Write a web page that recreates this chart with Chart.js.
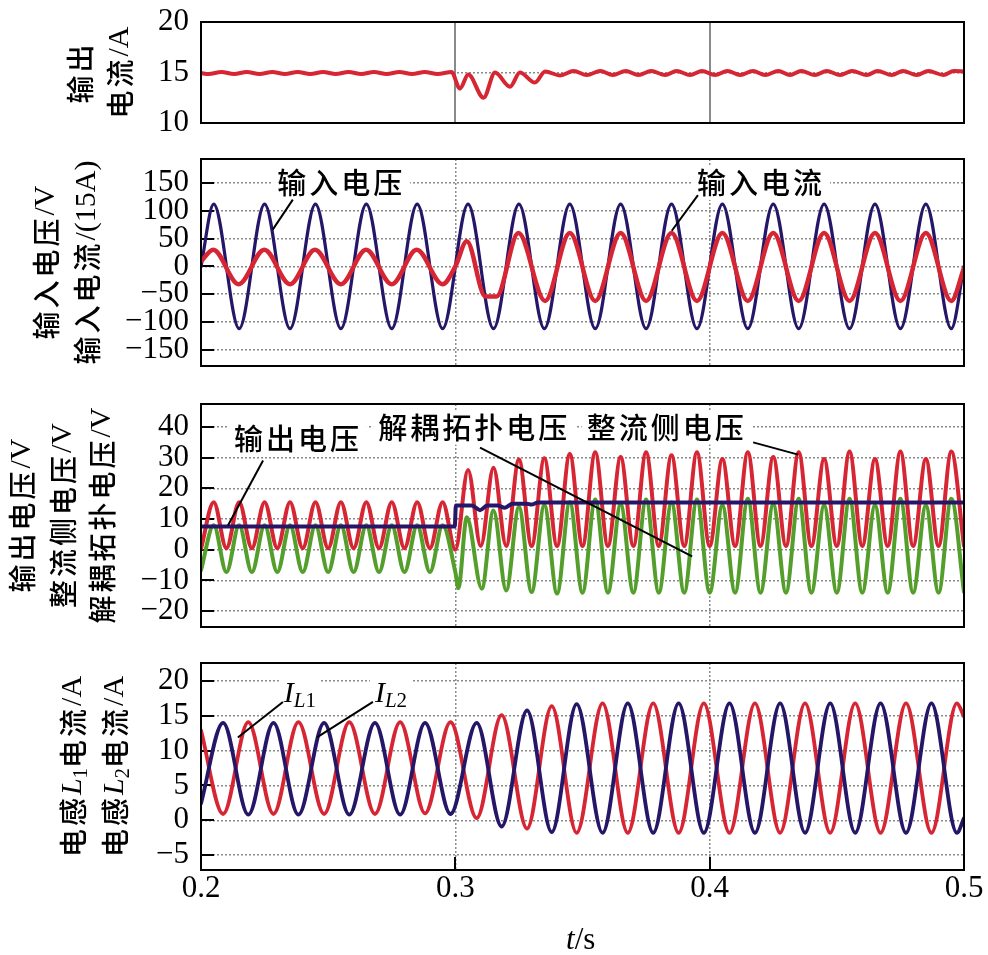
<!DOCTYPE html>
<html>
<head>
<meta charset="utf-8">
<script src="https://cdn.jsdelivr.net/npm/chart.js@4.4.1/dist/chart.umd.min.js"></script>
<style>
  body { margin: 0; background: #fff; overflow: hidden; }
  #wrap { position: relative; width: 988px; height: 955px; }
  canvas { position: absolute; left: 0; }
  #tlabel { position: absolute; left: 566px; top: 921px; font: 31px 'Liberation Serif', serif; color: #000; }
</style>
</head>
<body>
<div id="wrap">
  <canvas id="c1" width="988" height="150" style="top:0px"></canvas>
  <canvas id="c2" width="988" height="240" style="top:150px"></canvas>
  <canvas id="c3" width="988" height="250" style="top:390px"></canvas>
  <canvas id="c4" width="988" height="315" style="top:640px"></canvas>
  <div id="tlabel"><i>t</i>/s</div>
</div>
<script>
// x axis ticks (time, s)
const xTicks = [0.2, 0.3, 0.4, 0.5];

// panel 1: output current (A)
const iOutTicks = [10, 15, 20];
const iOutT = [0.2, 0.203, 0.208, 0.213, 0.218, 0.223, 0.228, 0.233, 0.238, 0.243, 0.248, 0.253, 0.258, 0.263, 0.268, 0.273, 0.278, 0.283, 0.288, 0.293, 0.2985,
  0.3018, 0.3051, 0.3111, 0.3156, 0.3215, 0.3254, 0.3313, 0.3353, 0.3412,
  0.3465, 0.3517, 0.357, 0.3619, 0.367, 0.372, 0.377, 0.3825, 0.387, 0.3923, 0.397, 0.4021, 0.407, 0.412, 0.417, 0.4218,
  0.427, 0.4316, 0.436, 0.4414, 0.446, 0.4513, 0.456, 0.4618, 0.466, 0.4716, 0.476, 0.4814, 0.486, 0.4919, 0.496, 0.5];
const iOutV = [14.95, 14.85, 15.05, 14.85, 15.05, 14.85, 15.05, 14.85, 15.05, 14.85, 15.05, 14.85, 15.05, 14.85, 15.05, 14.85, 15.05, 14.85, 15.05, 14.85, 15.05,
  13.4, 14.8, 12.5, 15.0, 13.6, 15.0, 14.0, 15.1, 14.7,
  15.15, 14.75, 15.15, 14.75, 15.15, 14.75, 15.15, 14.75, 15.15, 14.75, 15.15, 14.75, 15.15, 14.75, 15.15, 14.75,
  15.15, 14.75, 15.15, 14.75, 15.15, 14.75, 15.15, 14.75, 15.15, 14.75, 15.15, 14.75, 15.15, 14.75, 15.15, 15.1];

// panel 2: input voltage (V) and input current (scaled)
const vInTicks = [-150, -100, -50, 0, 50, 100, 150];
const vInT = [0.2, 0.205, 0.215, 0.225, 0.235, 0.245, 0.255, 0.265, 0.275, 0.285, 0.295, 0.305, 0.315, 0.325, 0.335, 0.345,
  0.355, 0.365, 0.375, 0.385, 0.395, 0.405, 0.415, 0.425, 0.435, 0.445, 0.455, 0.465, 0.475, 0.485, 0.495, 0.5];
const vInV = [0, 112, -112, 112, -112, 112, -112, 112, -112, 112, -112, 112, -112, 112, -112, 112,
  -112, 112, -112, 112, -112, 112, -112, 112, -112, 112, -112, 112, -112, 112, -112, 0];
const iInT = [0.2, 0.2048, 0.2148, 0.2249, 0.235, 0.2448, 0.255, 0.2649, 0.275, 0.2848, 0.295, 0.3, 0.3045, 0.3118, 0.3162, 0.3248, 0.3353,
  0.345, 0.355, 0.365, 0.375, 0.385, 0.395, 0.405, 0.415, 0.425, 0.435, 0.445, 0.455, 0.465, 0.475, 0.485, 0.495, 0.5];
const iInV = [9, 30, -32, 30, -32, 30, -32, 30, -32, 30, -32, 0, 45, -54, -54, 60, -62,
  60, -62, 60, -62, 60, -62, 60, -62, 60, -62, 60, -62, 60, -62, 60, -62, -3];

// panel 3: rectifier-side, decoupling and output voltage (V)
const v3Ticks = [-20, -10, 0, 10, 20, 30, 40];
const vRectT = [0.2, 0.205, 0.21, 0.215, 0.22, 0.225, 0.23, 0.235, 0.24, 0.245, 0.25, 0.255, 0.26, 0.265, 0.27, 0.275, 0.28, 0.285, 0.29, 0.295,
  0.3, 0.305, 0.31, 0.315, 0.32, 0.325, 0.33, 0.335, 0.34, 0.345, 0.35, 0.355, 0.36, 0.365, 0.37, 0.375, 0.38, 0.385, 0.39, 0.395,
  0.4, 0.405, 0.41, 0.415, 0.42, 0.425, 0.43, 0.435, 0.44, 0.445, 0.45, 0.455, 0.46, 0.465, 0.47, 0.475, 0.48, 0.485, 0.49, 0.495, 0.5];
const vRectV = [0.3, 15.5, 0.5, 15.5, 0.5, 15.5, 0.5, 15.5, 0.5, 15.5, 0.5, 15.5, 0.5, 15.5, 0.5, 15.5, 0.5, 15.5, 0.5, 15.5,
  0, 26, 1.2, 26.7, 1.2, 29.4, 1.2, 29.8, 1.2, 31.2, 1.2, 31.8, 1.2, 30.2, 1.2, 31.8, 1.2, 30.8, 1.2, 31.8,
  1.2, 29.6, 1.2, 31.8, 1.2, 30.2, 1.2, 31.8, 1.2, 29.6, 1.2, 32, 1.2, 29.6, 1.2, 32, 1.2, 29.6, 1.2, 32, 1.2];
const vDecT = [0.2, 0.205, 0.21, 0.215, 0.22, 0.225, 0.23, 0.235, 0.24, 0.245, 0.25, 0.255, 0.26, 0.265, 0.27, 0.275, 0.28, 0.285, 0.29, 0.295,
  0.3, 0.3012, 0.3045, 0.3104, 0.315, 0.32, 0.325, 0.33, 0.335, 0.34, 0.345, 0.35, 0.355, 0.36, 0.365, 0.37, 0.375, 0.38, 0.385, 0.39, 0.395,
  0.4, 0.405, 0.41, 0.415, 0.42, 0.425, 0.43, 0.435, 0.44, 0.445, 0.45, 0.455, 0.46, 0.465, 0.47, 0.475, 0.48, 0.485, 0.49, 0.495, 0.5];
const vDecV = [-6.7, 8, -7.3, 8, -7.3, 8, -7.3, 8, -7.3, 8, -7.3, 8, -7.3, 8, -7.3, 8, -7.3, 8, -7.3, 8,
  -7.3, -12.5, 10.6, -12.7, 12.8, -13.3, 13.9, -13.8, 14.5, -14.3, 15.5, -14, 16.4, -14, 14.8, -14, 16.4, -14, 15.4, -14, 16.4,
  -14, 14.4, -14, 16.6, -14, 14.8, -14, 16.6, -14, 14.4, -14, 16.6, -14, 14.4, -14, 16.6, -14, 14.4, -14, 16.6, -13.8];
const vOutT = [0.2, 0.2998, 0.3002, 0.3065, 0.3097, 0.3125, 0.3165, 0.3195, 0.3225, 0.328, 0.33, 0.3325, 0.5];
const vOutV = [7.6, 7.6, 14.4, 14.4, 12.9, 14.4, 14.4, 13.7, 15.0, 15.0, 14.7, 15.4, 15.4];

// panel 4: inductor currents (A)
const iLTicks = [-5, 0, 5, 10, 15, 20];
const iLT = [0.2, 0.2087, 0.2186, 0.2285, 0.2383, 0.2484, 0.2583, 0.2684, 0.2783, 0.2881, 0.2981, 0.3084, 0.3182, 0.3282, 0.3379, 0.3477,
  0.3579, 0.3678, 0.3778, 0.3878, 0.3977, 0.4078, 0.4178, 0.4277, 0.4375, 0.4474, 0.4572, 0.4672, 0.4772, 0.4872, 0.4972, 0.5];
const iL1V = [12.9, 0.9, 14.1, 0.9, 14.1, 0.9, 14.1, 0.9, 14.1, 1.0, 14.1, 0.3, 15.1, -1.2, 16.4, -1.8,
  16.8, -1.8, 16.8, -1.8, 16.8, -1.8, 16.8, -1.8, 16.8, -1.8, 16.8, -1.8, 16.8, -1.8, 16.8, 14.9];
const iL2V = [2.4, 14.0, 0.8, 14.0, 0.8, 14.0, 0.8, 14.0, 0.8, 14.0, 0.9, 14.0, -0.9, 15.8, -1.7, 16.7,
  -1.8, 16.8, -1.8, 16.8, -1.8, 16.8, -1.8, 16.8, -1.8, 16.8, -1.8, 16.8, -1.8, 16.8, -1.8, 0.3];

const RED = 'rgb(214,38,52)';
const NAVY = 'rgb(38,22,104)';
const GREEN = 'rgb(84,158,44)';
const GRID = '#8a8a8a';
const SERIF = "'Liberation Serif', serif";
const CJK = "'Noto Sans CJK SC', sans-serif";

// text run pieces
const cj = (t, s = 28) => ({ t, font: '500 ' + s + 'px ' + CJK, ls: '3px' });
const se = (t, s = 30) => ({ t, font: s + 'px ' + SERIF });
const it = (t, s = 30) => ({ t, font: 'italic ' + s + 'px ' + SERIF });
const sub = (t, s = 21) => ({ t, font: s + 'px ' + SERIF, dy: 8 });
const subIt = (t, s = 21) => ({ t, font: 'italic ' + s + 'px ' + SERIF, dy: 8 });

function runWidth(ctx, segs) {
  let w = 0;
  segs.forEach(s => { ctx.font = s.font; ctx.letterSpacing = s.ls || '0px'; w += ctx.measureText(s.t).width; });
  return w;
}
function drawRun(ctx, segs, x0, y0) {
  let x = x0;
  segs.forEach(s => {
    ctx.font = s.font; ctx.letterSpacing = s.ls || '0px';
    ctx.fillText(s.t, x, y0 + (s.dy || 0));
    x += ctx.measureText(s.t).width;
  });
  ctx.letterSpacing = '0px';
}

const deco = {
  id: 'deco',
  beforeDatasetsDraw(chart, args, o) {
    const { ctx, chartArea: a, scales: { x, y } } = chart;
    ctx.save();
    ctx.strokeStyle = '#000';
    ctx.lineWidth = 2;
    (o.yIn || []).forEach(v => {
      const py = Math.round(y.getPixelForValue(v));
      ctx.beginPath(); ctx.moveTo(a.left, py); ctx.lineTo(a.left + 13, py); ctx.stroke();
    });
    (o.xIn || []).forEach(v => {
      const px = Math.round(x.getPixelForValue(v));
      ctx.beginPath(); ctx.moveTo(px, a.bottom); ctx.lineTo(px, a.bottom - 13); ctx.stroke();
    });
    ctx.textBaseline = 'middle';
    (o.notes || []).forEach(n => {
      const px = x.getPixelForValue(n.x), py = y.getPixelForValue(n.y);
      const w = runWidth(ctx, n.segs);
      ctx.fillStyle = '#fff';
      ctx.fillRect(px - w / 2 - 5, py - 17, w + 10, 34);
      ctx.fillStyle = '#000';
      drawRun(ctx, n.segs, px - w / 2, py);
    });
    ctx.restore();
  },
  afterDatasetsDraw(chart, args, o) {
    const { ctx, scales: { x, y } } = chart;
    ctx.save();
    ctx.strokeStyle = '#000';
    ctx.lineWidth = 2;
    (o.leaders || []).forEach(l => {
      ctx.beginPath();
      ctx.moveTo(x.getPixelForValue(l[0]), y.getPixelForValue(l[1]));
      ctx.lineTo(x.getPixelForValue(l[2]), y.getPixelForValue(l[3]));
      ctx.stroke();
    });
    ctx.restore();
  },
  afterDraw(chart, args, o) {
    const { ctx, chartArea: a } = chart;
    ctx.save();
    ctx.strokeStyle = '#000';
    ctx.lineWidth = 2;
    ctx.strokeRect(a.left, a.top, a.right - a.left, a.bottom - a.top);
    ctx.fillStyle = '#000';
    ctx.textBaseline = 'middle';
    (o.title || []).forEach(line => {
      const w = runWidth(ctx, line.segs);
      ctx.save();
      ctx.translate(line.x, (a.top + a.bottom) / 2);
      ctx.rotate(-Math.PI / 2);
      drawRun(ctx, line.segs, -w / 2, 0);
      ctx.restore();
    });
    ctx.restore();
  }
};

function xy(t, v) { return t.map((x, i) => ({ x: x, y: v[i] })); }
function series(t, v, color, w) {
  return { data: xy(t, v), borderColor: color, borderWidth: w, pointRadius: 0, fill: false };
}
const fmt = v => (v < 0 ? '\u2212' + (-v) : '' + v);

function panel(id, sets, cfg) {
  return new Chart(document.getElementById(id), {
    type: 'line',
    data: { datasets: sets },
    options: {
      responsive: false,
      animation: false,
      devicePixelRatio: 1,
      layout: { padding: { left: 0, right: 24, top: cfg.top, bottom: cfg.bottom } },
      elements: {
        line: { cubicInterpolationMode: 'monotone', borderJoinStyle: 'round', borderCapStyle: 'round' },
        point: { radius: 0 }
      },
      plugins: { legend: { display: false }, tooltip: { enabled: false }, deco: cfg.deco },
      scales: {
        x: {
          type: 'linear', min: 0.2, max: 0.5,
          afterBuildTicks: s => { s.ticks = xTicks.map(v => ({ value: v })); },
          afterFit: s => { s.height = cfg.xh; s.paddingLeft = 0; s.paddingRight = 0; },
          ticks: { display: !!cfg.xLabels, padding: 0, color: '#000', autoSkip: false, maxRotation: 0,
            font: { family: SERIF, size: 31 }, callback: v => v.toFixed(1) },
          grid: { drawTicks: false, color: GRID, lineWidth: cfg.xSolid ? 2 : 1.5 },
          border: { display: false, dash: cfg.xSolid ? [] : [2, 2] }
        },
        y: {
          min: cfg.ymin, max: cfg.ymax,
          afterBuildTicks: s => { s.ticks = cfg.yTicks.map(v => ({ value: v })); },
          afterFit: s => { s.width = 201; s.paddingTop = 0; s.paddingBottom = 0; },
          ticks: { padding: 12, color: '#000', autoSkip: false, font: { family: SERIF, size: 31 }, callback: fmt },
          grid: { drawTicks: false, color: GRID, lineWidth: 1.5 },
          border: { display: false, dash: [2, 2] }
        }
      }
    },
    plugins: [deco]
  });
}

// panel 1
panel('c1', [series(iOutT, iOutV, RED, 4)], {
  top: 22, bottom: 27, xh: 0, xSolid: true, ymin: 10, ymax: 20, yTicks: iOutTicks,
  deco: {
    yIn: [15],
    title: [{ x: 80, segs: [cj('输出')] }, { x: 120, segs: [cj('电流'), se('/A')] }]
  }
});

// panel 2
panel('c2', [series(iInT, iInV, RED, 4.5), series(vInT, vInV, NAVY, 3.2)], {
  top: 9, bottom: 24, xh: 0, ymin: -179, ymax: 193, yTicks: vInTicks,
  deco: {
    yIn: vInTicks,
    notes: [{ x: 0.2551, y: 150, segs: [cj('输入电压', 29)] }, { x: 0.4202, y: 150, segs: [cj('输入电流', 29)] }],
    leaders: [[0.2361, 120, 0.2282, 66], [0.3954, 128, 0.3851, 64]],
    title: [{ x: 46, segs: [cj('输入电压'), se('/V')] }, { x: 87, segs: [cj('输入电流'), se('/(15A)')] }]
  }
});

// panel 3
panel('c3', [series(vOutT, vOutV, NAVY, 4), series(vDecT, vDecV, GREEN, 4), series(vRectT, vRectV, RED, 4)], {
  top: 14, bottom: 13, xh: 0, ymin: -25.2, ymax: 47.5, yTicks: v3Ticks,
  deco: {
    yIn: v3Ticks,
    notes: [
      { x: 0.2381, y: 36, segs: [cj('输出电压', 29)] },
      { x: 0.3074, y: 39.8, segs: [cj('解耦拓扑电压', 29)] },
      { x: 0.3831, y: 39.8, segs: [cj('整流侧电压', 29)] }
    ],
    leaders: [[0.2244, 29.1, 0.2106, 7.9], [0.3097, 33.3, 0.3931, -2.2], [0.4171, 35, 0.4348, 31]],
    title: [
      { x: 22, segs: [cj('输出电压'), se('/V')] },
      { x: 63, segs: [cj('整流侧电压'), se('/V')] },
      { x: 102, segs: [cj('解耦拓扑电压'), se('/V')] }
    ]
  }
});

// panel 4
panel('c4', [series(iLT, iL2V, NAVY, 3.8), series(iLT, iL1V, RED, 3.8)], {
  top: 23, bottom: 0, xh: 85, xLabels: true, ymin: -7.15, ymax: 22.6, yTicks: iLTicks,
  deco: {
    yIn: iLTicks,
    xIn: [0.3, 0.4],
    notes: [
      { x: 0.2389, y: 18.2, segs: [it('I'), subIt('L'), sub('1')] },
      { x: 0.2747, y: 18.2, segs: [it('I'), subIt('L'), sub('2')] }
    ],
    leaders: [[0.2322, 17, 0.2145, 11.9], [0.2676, 17, 0.2456, 11.9]],
    title: [
      { x: 73, segs: [cj('电感'), it('L'), sub('1'), cj('电流'), se('/A')] },
      { x: 115, segs: [cj('电感'), it('L'), sub('2'), cj('电流'), se('/A')] }
    ]
  }
});
</script>
</body>
</html>
